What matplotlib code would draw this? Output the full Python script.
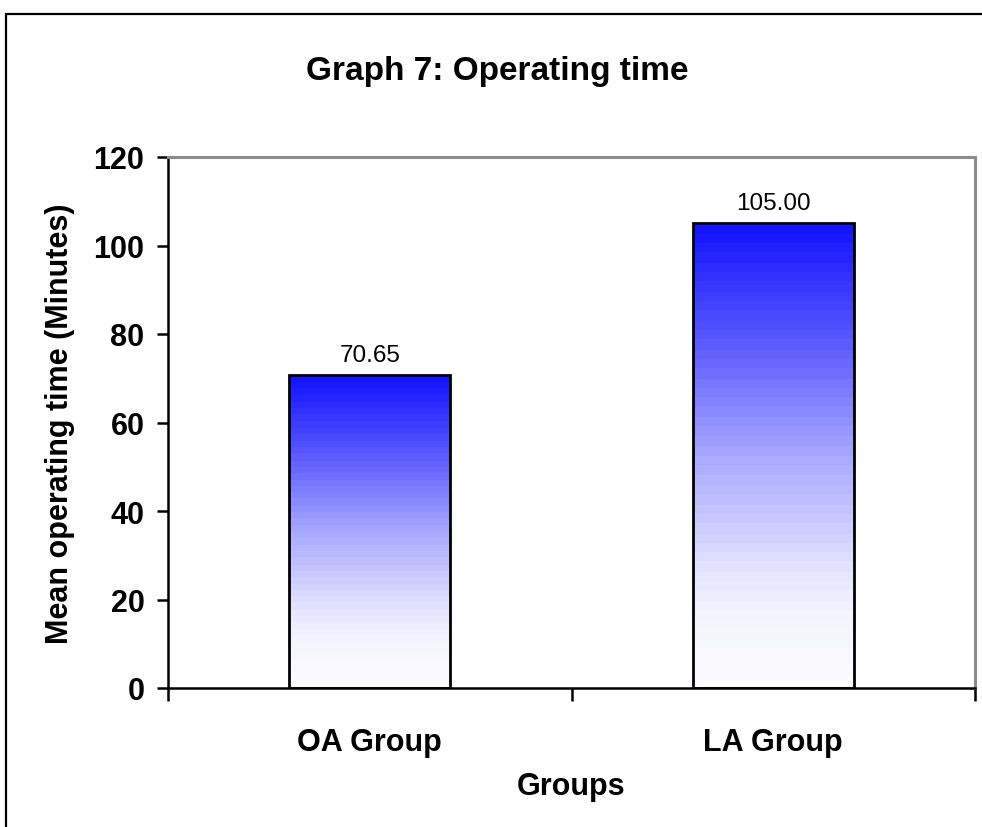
import matplotlib
matplotlib.use("Agg")
import matplotlib.pyplot as plt
import numpy as np
from matplotlib.patches import Rectangle
from matplotlib.colors import LinearSegmentedColormap

plt.rcParams['font.family'] = ['Liberation Sans', 'DejaVu Sans']

groups = ["OA Group", "LA Group"]
mean_times = [70.65, 105.00]
y_ticks = [0, 20, 40, 60, 80, 100, 120]

fig = plt.figure(figsize=(9.82, 8.28), dpi=100)
ax = fig.add_axes([168 / 982, 1 - 689 / 828, (975 - 168) / 982, (689 - 158) / 828])

# frame round the whole chart
fig.patches.append(Rectangle((5.5 / 982, -0.1), 1.2, 1 - 14.5 / 828 + 0.1,
                             transform=fig.transFigure, fill=False,
                             edgecolor='black', linewidth=1.6, zorder=0))

# white at the foot of each bar, deep blue at its top
blue_fade = LinearSegmentedColormap.from_list(
    "blue_fade",
    [(0.0, "#fdfdff"), (0.15, "#f4f4ff"), (0.25, "#e4e4ff"), (0.38, "#c4c4ff"),
     (0.5, "#a8a8ff"), (0.75, "#5a5aff"), (1.0, "#1414ff")], N=48)
grad = np.linspace(0, 1, 256).reshape(-1, 1)

width = 0.4
x = np.arange(len(groups))
bars = ax.bar(x, mean_times, width, facecolor='none', edgecolor='black',
              linewidth=2.0, zorder=3)
for b, val in zip(bars, mean_times):
    x0 = b.get_x()
    im = ax.imshow(grad, cmap=blue_fade, origin='lower', aspect='auto',
                   extent=(x0, x0 + width, 0, val), zorder=2, interpolation='nearest')
    im.set_clip_path(b)
    ax.annotate(f"{val:.2f}", (b.get_x() + width / 2, val), xytext=(0, 7),
                textcoords='offset points', ha='center', va='bottom', fontsize=17.5)

ax.set_xlim(-0.5, 1.5)
ax.set_ylim(0, 120)
ax.set_yticks(y_ticks)
ax.set_yticklabels([str(t) for t in y_ticks], fontsize=22, fontweight='bold')
ax.set_xticks([-0.5, 0.5, 1.5])
ax.set_xticklabels([])
ax.set_xticks(x, minor=True)
ax.set_xticklabels(groups, minor=True, fontsize=22, fontweight='bold')
ax.tick_params(axis='x', which='major', direction='out', length=9, width=1.8)
ax.tick_params(axis='x', which='minor', length=0, pad=28)
ax.tick_params(axis='y', direction='out', length=8, width=1.8, pad=9)

for side in ('left', 'bottom'):
    ax.spines[side].set_color('black')
    ax.spines[side].set_linewidth(1.8)
for side in ('top', 'right'):
    ax.spines[side].set_color('#8c8c8c')
    ax.spines[side].set_linewidth(2.2)

ax.set_ylabel("Mean operating time (Minutes)", fontsize=22, fontweight='bold', labelpad=13)
ax.set_xlabel("Groups", fontsize=22, fontweight='bold', labelpad=10)
fig.text(0.506, 1 - 72 / 828, "Graph 7: Operating time", ha='center', va='center',
         fontsize=24, fontweight='bold')

fig.savefig("out.png", dpi=100)
